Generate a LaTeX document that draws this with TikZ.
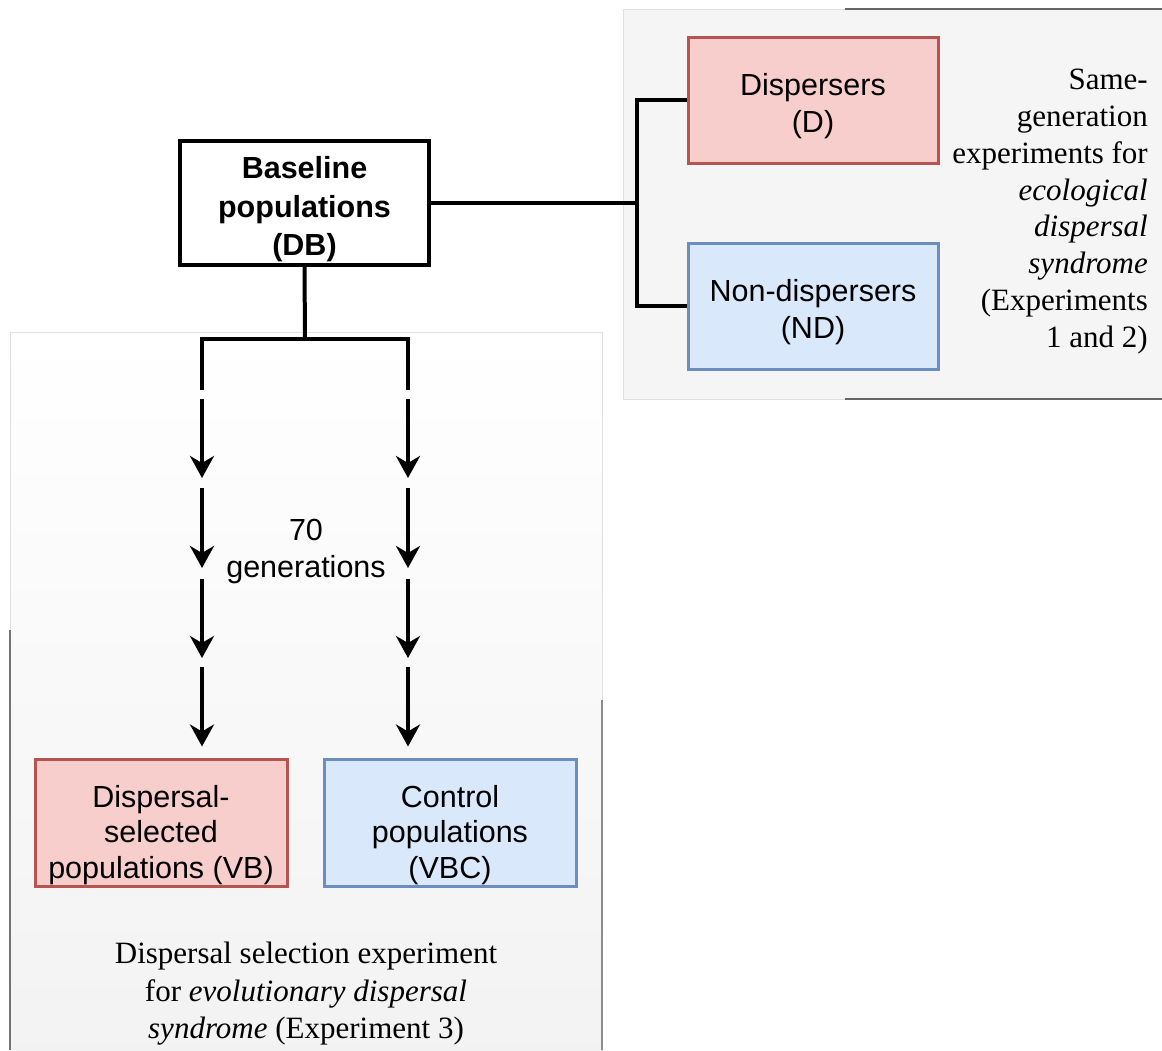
\documentclass[tikz,border=0pt]{standalone}
\usepackage{fontspec}
\setmainfont{Liberation Serif}
\setsansfont{Liberation Sans}
\usetikzlibrary{arrows.meta}
\definecolor{pinkfill}{HTML}{F8CECC}
\definecolor{pinkline}{HTML}{B85450}
\definecolor{bluefill}{HTML}{DAE8FC}
\definecolor{blueline}{HTML}{6C8EBF}
\definecolor{panelfill}{HTML}{F5F5F5}
\newcommand{\toppad}[1]{\rule{0pt}{#1}}
\begin{document}
\begin{tikzpicture}[x=1pt,y=-1pt,
  sanstext/.style={font=\sffamily\fontsize{30.5}{37}\selectfont, align=center},
  seriftext/.style={font=\rmfamily\fontsize{31}{36.8}\selectfont},
  box/.style={draw, line width=3pt, minimum width=250pt, minimum height=126pt, inner sep=0pt, sanstext},
  redbox/.style={box, fill=pinkfill, draw=pinkline},
  bluebox/.style={box, fill=bluefill, draw=blueline},
  lowbox/.style={minimum width=252pt, minimum height=127pt, font=\sffamily\fontsize{30.5}{35.5}\selectfont},
  link/.style={line width=4pt, draw=black},
  flow/.style={link, -{Stealth[length=22pt,width=24pt,inset=7pt]}}
]
\useasboundingbox (0,0) rectangle (1162,1050);
\fill[white] (0,0) rectangle (1162,1050);
% right panel
\path[fill=panelfill, draw=black!12, line width=1pt] (623,9) rectangle (1175,399);
\draw[black!60, line width=1.5pt] (845,9) -- (1162,9);
\draw[black!60, line width=1.5pt] (845,399) -- (1162,399);
% left panel
\shade[top color=white, middle color=black!2, bottom color=black!5] (10,332) rectangle (602,1060);
\draw[black!12, line width=1pt] (10,1060) -- (10,332) -- (602,332) -- (602,1060);
\draw[black!55, line width=1.5pt] (10,630) -- (10,1050);
\draw[black!45, line width=1.5pt] (602,700) -- (602,1050);

% nodes
\node[box, draw=black, fill=white, line width=3.5pt, minimum width=249pt, minimum height=124pt,
      font=\sffamily\bfseries\fontsize{30.5}{38.5}\selectfont] (base) at (304.5,203) {\toppad{35pt}Baseline\\populations\\(DB)};
\node[redbox] (D) at (813,100) {\toppad{34pt}Dispersers\\(D)};
\node[bluebox] (ND) at (813,306) {\toppad{35pt}Non-dispersers\\(ND)};
\node[redbox, lowbox] (VB) at (161,822.5) {\toppad{47pt}Dispersal-\\selected\\populations (VB)};
\node[bluebox, lowbox] (VBC) at (450,822.5) {\toppad{47pt}Control\\populations\\(VBC)};
\node[sanstext, inner sep=0pt] (gen) at (306,552) {70\\generations};
\node[seriftext, align=right, anchor=north east, inner sep=0pt] (sametext) at (1148,69)
  {Same-\\generation\\experiments for\\\textit{ecological}\\\textit{dispersal}\\\textit{syndrome}\\(Experiments\\1 and 2)};
\node[seriftext, align=center, anchor=north, inner sep=0pt, font=\rmfamily\fontsize{31}{37.5}\selectfont] (caption) at (306,942)
  {Dispersal selection experiment\\for \textit{evolutionary dispersal}\\\textit{syndrome} (Experiment 3)};

% right branch
\coordinate (jR) at (637,203);
\draw[link] (base.east) -- (jR);
\draw[link] (D.west) -| (jR) |- (ND.west);

% bottom branch
\coordinate (jB) at (305,339);
\foreach \n/\x in {L/202,R/408}{
  \coordinate (\n1) at (\x,390);
  \coordinate (\n2) at (\x,399);
  \coordinate (\n3) at (\x,478);
  \coordinate (\n4) at (\x,488);
  \coordinate (\n5) at (\x,568);
  \coordinate (\n6) at (\x,579);
  \coordinate (\n7) at (\x,658);
  \coordinate (\n8) at (\x,667);
}
\draw[link] (base.south) -- (jB);
\draw[link] (L1) |- (jB) -| (R1);
\foreach \n/\t in {L/VB,R/VBC}{
  \draw[flow] (\n2) -- (\n3);
  \draw[flow] (\n4) -- (\n5);
  \draw[flow] (\n6) -- (\n7);
  \draw[flow, shorten >=11pt] (\n8) -- (\n8 |- \t.north);
}
\end{tikzpicture}
\end{document}
